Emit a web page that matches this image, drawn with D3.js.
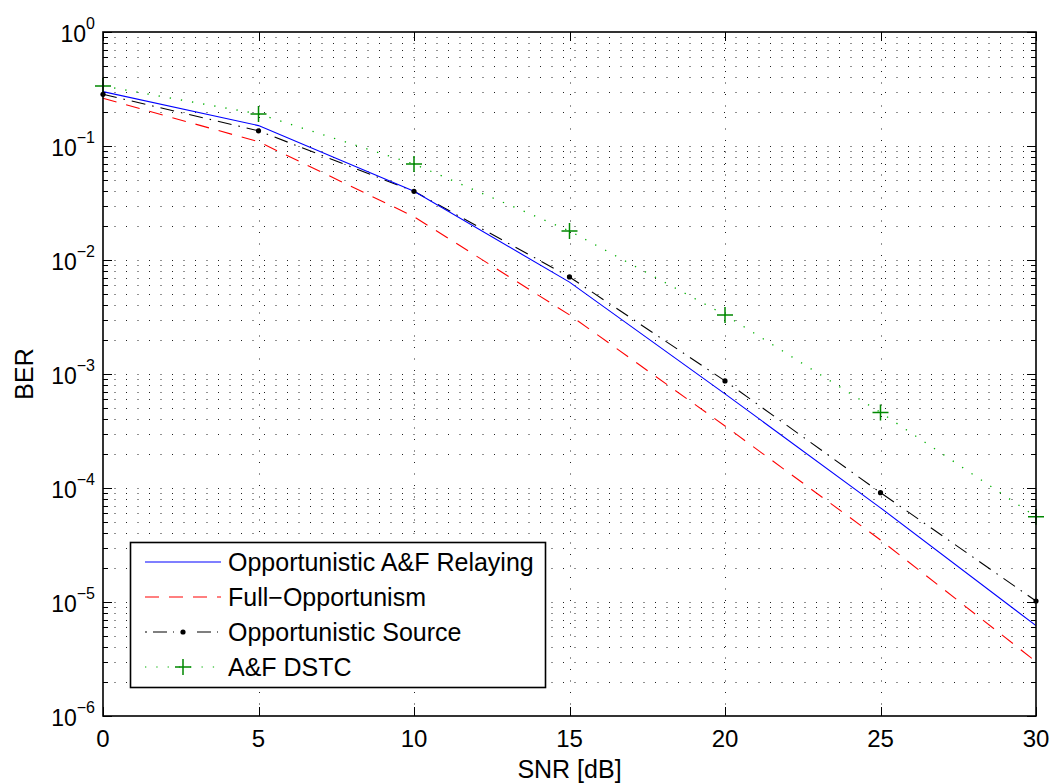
<!DOCTYPE html>
<html>
<head>
<meta charset="utf-8">
<script src="https://cdn.jsdelivr.net/npm/d3@7"></script>
<style>
  body { margin: 0; background: #fff; }
  svg { display: block; font-family: "Liberation Sans", Arial, sans-serif; }
</style>
</head>
<body>
<svg id="chart" width="1053" height="784"></svg>
<script>
// data (SNR in dB, BER)
const snr = [0, 5, 10, 15, 20, 25, 30];
const afRelaying = [0.30, 0.151, 0.040, 0.0064, 6.7e-4, 6.7e-5, 6.2e-6];
const fullOpp = [0.262, 0.109, 0.024, 0.0033, 3.5e-4, 3.5e-5, 3.0e-6];
const oppSource = [0.284, 0.136, 0.040, 0.0071, 8.7e-4, 9.1e-5, 1.02e-5];
const afDstc = [0.336, 0.191, 0.0695, 0.018, 0.0033, 4.6e-4, 5.6e-5];

const seriesNames = ["Opportunistic A&F Relaying", "Full\u2212Opportunism", "Opportunistic Source", "A&F DSTC"];
const xTicks = [0, 5, 10, 15, 20, 25, 30];
const yExponents = [0, -1, -2, -3, -4, -5, -6];

const svg = d3.select("#chart");
const plotLeft = 103, plotRight = 1036, plotTop = 32, plotBottom = 716;

const x = d3.scaleLinear().domain([0, 30]).range([plotLeft, plotRight]);
const y = d3.scaleLog().domain([1e-6, 1]).range([plotBottom, plotTop]);

// grid
const grid = svg.append("g").attr("stroke", "#222").attr("stroke-width", 1)
    .attr("stroke-dasharray", "1,10.5");
const minorVals = [];
for (let e = -6; e < 0; e++) {
    for (let m = 1; m < 10; m++) minorVals.push(m * Math.pow(10, e));
}
minorVals.push(1);
minorVals.filter(v => v > 1e-6 && v < 1).forEach(v => {
    grid.append("line").attr("x1", plotLeft).attr("x2", plotRight)
        .attr("y1", Math.round(y(v)) + 0.5).attr("y2", Math.round(y(v)) + 0.5);
});
xTicks.slice(1, -1).forEach(t => {
    grid.append("line").attr("y1", plotBottom).attr("y2", plotTop)
        .attr("x1", Math.round(x(t)) + 0.5).attr("x2", Math.round(x(t)) + 0.5);
});

// ticks
const ticks = svg.append("g").attr("stroke", "#000").attr("stroke-width", 1);
minorVals.forEach(v => {
    const major = Math.abs(Math.log10(v) - Math.round(Math.log10(v))) < 1e-9;
    const len = major ? 9 : 5;
    const yy = Math.round(y(v)) + 0.5;
    ticks.append("line").attr("x1", plotLeft).attr("x2", plotLeft + len).attr("y1", yy).attr("y2", yy);
    ticks.append("line").attr("x1", plotRight).attr("x2", plotRight - len).attr("y1", yy).attr("y2", yy);
});
xTicks.forEach(t => {
    const xx = Math.round(x(t)) + 0.5;
    ticks.append("line").attr("x1", xx).attr("x2", xx).attr("y1", plotBottom).attr("y2", plotBottom - 9);
    ticks.append("line").attr("x1", xx).attr("x2", xx).attr("y1", plotTop).attr("y2", plotTop + 9);
});

// series lines
const line = d3.line().x((d, i) => x(snr[i])).y(d => y(d));
svg.append("path").attr("d", line(afDstc)).attr("fill", "none")
    .attr("stroke", "#00b000").attr("stroke-width", 1.3).attr("stroke-dasharray", "1.3,10");
svg.append("path").attr("d", line(fullOpp)).attr("fill", "none")
    .attr("stroke", "#ff0000").attr("stroke-width", 1.1).attr("stroke-dasharray", "14,10");
svg.append("path").attr("d", line(oppSource)).attr("fill", "none")
    .attr("stroke", "#000").attr("stroke-width", 1.1).attr("stroke-dasharray", "14,7,1.5,7");
svg.append("path").attr("d", line(afRelaying)).attr("fill", "none")
    .attr("stroke", "#0000ff").attr("stroke-width", 1.1);

// markers
function plus(g, cx, cy) {
    g.append("path").attr("d", `M${cx - 8},${cy}H${cx + 8}M${cx},${cy - 8}V${cy + 8}`)
        .attr("stroke", "#008800").attr("stroke-width", 1.5).attr("fill", "none");
}
const mk = svg.append("g");
afDstc.forEach((v, i) => plus(mk, x(snr[i]), y(v)));
oppSource.forEach((v, i) => {
    mk.append("circle").attr("cx", x(snr[i])).attr("cy", y(v)).attr("r", 2.6).attr("fill", "#000");
});

// axes box
svg.append("rect").attr("x", plotLeft).attr("y", plotTop).attr("width", plotRight - plotLeft)
    .attr("height", plotBottom - plotTop)
    .attr("fill", "none").attr("stroke", "#000").attr("stroke-width", 1.6);

// tick labels
xTicks.forEach(t => {
    svg.append("text").attr("x", x(t)).attr("y", 747).attr("text-anchor", "middle")
        .attr("font-size", 24).text(t);
});
yExponents.forEach(e => {
    const t = svg.append("text").attr("x", 95).attr("y", y(Math.pow(10, e)) + 10)
        .attr("text-anchor", "end").attr("font-size", 23);
    t.append("tspan").text("10");
    t.append("tspan").attr("dy", -13).attr("font-size", 16).text(e === 0 ? "0" : "\u2212" + (-e));
});

// axis labels
svg.append("text").attr("x", (plotLeft + plotRight) / 2).attr("y", 778).attr("text-anchor", "middle")
    .attr("font-size", 25).text("SNR [dB]");
svg.append("text").attr("transform", `translate(33,${(plotTop + plotBottom) / 2}) rotate(-90)`)
    .attr("text-anchor", "middle").attr("font-size", 25).text("BER");

// legend
const lg = svg.append("g");
lg.append("rect").attr("x", 130.5).attr("y", 542.5).attr("width", 415).attr("height", 145)
    .attr("fill", "#fff").attr("stroke", "#000").attr("stroke-width", 1.6);
const rowY = [562, 597, 632, 667];
const styles = [
    { stroke: "#0000ff", dash: null },
    { stroke: "#ff0000", dash: "14,10" },
    { stroke: "#000", dash: "2,6,14,6,1,100" },
    { stroke: "#00b000", dash: "1.3,10" }
];
seriesNames.forEach((name, i) => {
    const yy = rowY[i];
    const p = lg.append("line").attr("x1", 145).attr("x2", 221).attr("y1", yy).attr("y2", yy)
        .attr("stroke", styles[i].stroke).attr("stroke-width", 1.1);
    if (styles[i].dash) p.attr("stroke-dasharray", styles[i].dash);
    lg.append("text").attr("x", 228).attr("y", yy + 9).attr("font-size", 25).text(name);
});
lg.append("line").attr("x1", 195).attr("x2", 221).attr("y1", rowY[2]).attr("y2", rowY[2])
    .attr("stroke", "#000").attr("stroke-width", 1.1).attr("stroke-dasharray", "0,2,14,6,1,100");
lg.append("circle").attr("cx", 183).attr("cy", rowY[2]).attr("r", 2.6).attr("fill", "#000");
plus(lg, 183, rowY[3]);
</script>
</body>
</html>
